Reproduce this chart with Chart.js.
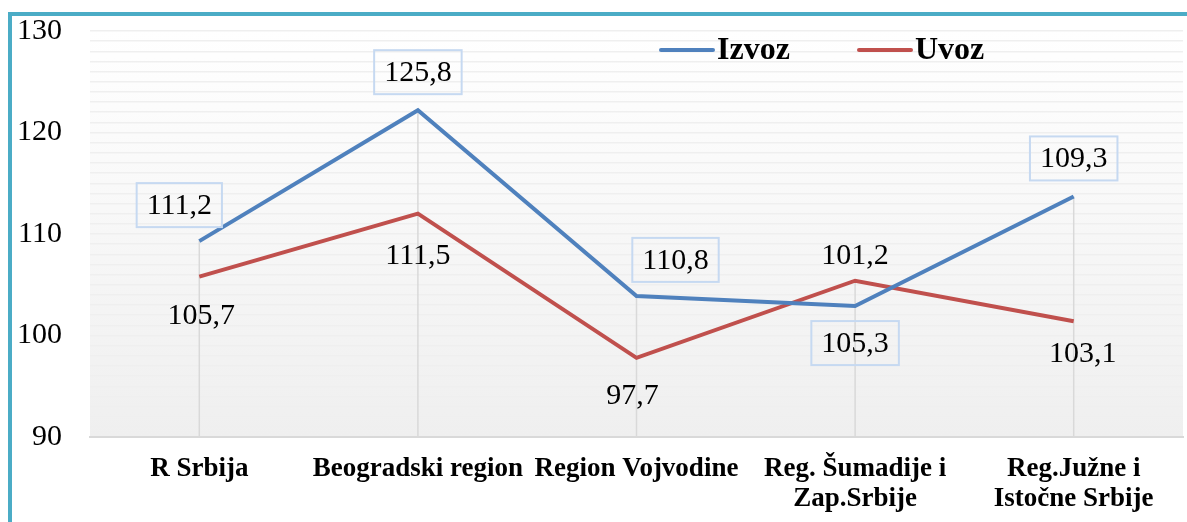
<!DOCTYPE html>
<html>
<head>
<meta charset="utf-8">
<script src="https://cdn.jsdelivr.net/npm/chart.js@4"></script>
<style>
  html, body { margin: 0; padding: 0; background: #ffffff; }
  #wrap { position: relative; width: 1187px; height: 522px; overflow: hidden; }
  #frame {
    position: absolute; left: 8px; top: 12px; width: 1200px; height: 540px;
    border-top: 4px solid #4bacc6; border-left: 4px solid #4bacc6;
  }
  canvas { position: absolute; left: 0; top: 0; }
</style>
</head>
<body>
<div id="wrap">
  <div id="frame"></div>
  <canvas id="chart" width="1187" height="522"></canvas>
</div>
<script>
const categories = [
  "R Srbija",
  "Beogradski region",
  "Region Vojvodine",
  ["Reg. Šumadije i", "Zap.Srbije"],
  ["Reg.Južne i", "Istočne Srbije"]
];

const izvozValues = [109.3, 122.2, 103.9, 102.9, 113.7];
const uvozValues = [105.8, 112.0, 97.8, 105.4, 101.4];

// labels as printed on the chart
const izvozLabels = ["111,2", "125,8", "110,8", "105,3", "109,3"];
const uvozLabels = ["105,7", "111,5", "97,7", "101,2", "103,1"];

const yTicks = [90, 100, 110, 120, 130];

const BLUE = "#4f81bd";
const RED = "#c0504d";
const SERIF = "'Liberation Serif', 'Times New Roman', serif";

// label placement relative to the point (px)
const izvozLabelOffsets = [[-20, -36], [0, -38], [39, -36], [0, 37], [0, -38]];
const uvozLabelOffsets = [[2, 38], [0, 41], [-4, 37], [0, -26], [9, 32]];

const decorPlugin = {
  id: "decor",
  beforeDraw(chart) {
    const { ctx, chartArea: a } = chart;
    const grad = ctx.createLinearGradient(0, a.top, 0, a.bottom);
    grad.addColorStop(0, "#ffffff");
    grad.addColorStop(1, "#efefef");
    ctx.save();
    ctx.fillStyle = grad;
    ctx.fillRect(a.left, a.top, a.right - a.left, a.bottom - a.top);
    ctx.restore();
  },
  beforeDatasetsDraw(chart) {
    const { ctx, chartArea: a } = chart;
    const metas = chart.data.datasets.map((_, i) => chart.getDatasetMeta(i));
    ctx.save();
    ctx.strokeStyle = "#d9d9d9";
    ctx.lineWidth = 1.5;
    categories.forEach((_, i) => {
      const pts = metas.map((m) => m.data[i]);
      const top = Math.min(...pts.map((p) => p.y));
      ctx.beginPath();
      ctx.moveTo(pts[0].x, top);
      ctx.lineTo(pts[0].x, a.bottom);
      ctx.stroke();
    });
    ctx.restore();
  },
  afterDatasetsDraw(chart) {
    const { ctx } = chart;
    ctx.save();
    ctx.font = "30px " + SERIF;
    ctx.textAlign = "center";
    ctx.textBaseline = "middle";
    ctx.fillStyle = "#000000";

    const izvozMeta = chart.getDatasetMeta(0);
    izvozLabels.forEach((txt, i) => {
      const p = izvozMeta.data[i];
      const x = p.x + izvozLabelOffsets[i][0];
      const y = p.y + izvozLabelOffsets[i][1];
      const w = ctx.measureText(txt).width + 20;
      const h = 44;
      ctx.strokeStyle = "#c6d9f1";
      ctx.lineWidth = 2;
      ctx.strokeRect(x - w / 2, y - h / 2, w, h);
      ctx.fillText(txt, x, y + 1);
    });

    const uvozMeta = chart.getDatasetMeta(1);
    uvozLabels.forEach((txt, i) => {
      const p = uvozMeta.data[i];
      ctx.fillText(txt, p.x + uvozLabelOffsets[i][0], p.y + uvozLabelOffsets[i][1] + 1);
    });

    // legend
    ctx.font = "bold 32px " + SERIF;
    ctx.textAlign = "left";
    ctx.lineCap = "round";
    ctx.lineWidth = 4;
    const legendY = 50;
    [[BLUE, "Izvoz", 661], [RED, "Uvoz", 859]].forEach(([color, name, x0]) => {
      ctx.strokeStyle = color;
      ctx.beginPath();
      ctx.moveTo(x0, legendY);
      ctx.lineTo(x0 + 52, legendY);
      ctx.stroke();
      ctx.fillText(name, x0 + 56, legendY + 1);
    });
    ctx.restore();
  }
};

new Chart(document.getElementById("chart"), {
  type: "line",
  data: {
    labels: categories,
    datasets: [
      { label: "Izvoz", data: izvozValues, borderColor: BLUE, borderWidth: 4, pointRadius: 0, tension: 0 },
      { label: "Uvoz", data: uvozValues, borderColor: RED, borderWidth: 4, pointRadius: 0, tension: 0 }
    ]
  },
  options: {
    responsive: false,
    animation: false,
    layout: { padding: { top: 31, right: 4, left: 0, bottom: 0 } },
    plugins: {
      legend: { display: false },
      tooltip: { enabled: false }
    },
    scales: {
      x: {
        offset: true,
        grid: { display: false, drawTicks: false },
        border: { display: true, color: "#d9d9d9", width: 2 },
        ticks: {
          color: "#000000",
          font: { family: SERIF, size: 27, weight: "bold", lineHeight: 1.1 },
          padding: 17,
          maxRotation: 0,
          autoSkip: false
        },
        afterFit: (scale) => {
          scale.height = 85;
          scale.paddingLeft = 0;
          scale.paddingRight = 0;
        }
      },
      y: {
        min: 90,
        max: 130,
        grid: {
          color: (c) => (c.tick && c.tick.value === 90 ? "rgba(0,0,0,0)" : "#efefef"),
          lineWidth: 1.5,
          drawTicks: false
        },
        border: { display: false },
        ticks: {
          stepSize: 1,
          maxTicksLimit: 100,
          autoSkip: false,
          color: "#000000",
          font: { family: SERIF, size: 30 },
          padding: 28,
          callback: (value) => (yTicks.includes(value) ? value : "")
        },
        afterFit: (scale) => {
          scale.width = 90;
          scale.paddingTop = 0;
          scale.paddingBottom = 0;
        }
      }
    }
  },
  plugins: [decorPlugin]
});
</script>
</body>
</html>
